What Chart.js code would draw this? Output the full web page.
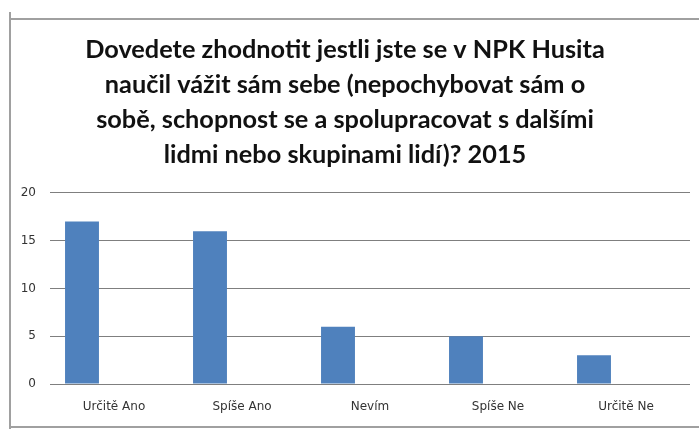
<!DOCTYPE html>
<html>
<head>
<meta charset="utf-8">
<script src="https://cdn.jsdelivr.net/npm/chart.js@4"></script>
<style>
html,body{margin:0;padding:0;background:#fff;}
#wrap{position:relative;width:699px;height:439px;}
canvas{position:absolute;left:0;top:0;}
.ln{position:absolute;background:#a0a0a0;pointer-events:none;}
</style>
</head>
<body>
<div id="wrap">
<canvas id="c" width="699" height="439"></canvas>
<div class="ln" style="left:9px;top:12px;width:2px;height:417px;"></div>
<div class="ln" style="left:10px;top:18px;width:689px;height:2px;"></div>
<div class="ln" style="left:10px;top:426px;width:689px;height:2px;"></div>
</div>
<script>
const titleLines = [
  "Dovedete zhodnotit jestli jste se v NPK Husita",
  "naučil vážit sám sebe (nepochybovat sám o",
  "sobě, schopnost se a spolupracovat s dalšími",
  "lidmi nebo skupinami lidí)? 2015"
];
const categories = ["Určitě Ano", "Spíše Ano", "Nevím", "Spíše Ne", "Určitě Ne"];
const answers2015 = [17, 16, 6, 5, 3];
const emptySeries = [null, null, null, null, null];
const yTicks = [0, 5, 10, 15, 20];

new Chart(document.getElementById('c'), {
  type: 'bar',
  data: {
    labels: categories,
    datasets: [
      { label: '2015', data: answers2015, backgroundColor: '#4F81BD', borderWidth: 0,
        categoryPercentage: 1.0, barPercentage: 0.53 },
      { label: '', data: emptySeries, backgroundColor: '#C0504D', borderWidth: 0,
        categoryPercentage: 1.0, barPercentage: 0.53 }
    ]
  },
  options: {
    responsive: false,
    animation: false,
    devicePixelRatio: 1,
    layout: { padding: { left: 0, right: 9, top: 0, bottom: 0 } },
    plugins: {
      legend: { display: false },
      tooltip: { enabled: false },
      title: {
        display: true,
        text: titleLines,
        color: '#111',
        font: { family: 'Lato', weight: 'bold', size: 25.3, lineHeight: 1.383 },
        padding: { top: 32, bottom: 21 }
      }
    },
    scales: {
      x: {
        grid: { display: false, drawTicks: false },
        border: { display: false },
        ticks: { color: '#333', font: { family: 'DejaVu Sans', size: 12 }, padding: 16, maxRotation: 0 },
        afterFit: (s) => { s.height = 55; }
      },
      y: {
        min: 0, max: 20,
        afterBuildTicks: (s) => { s.ticks = yTicks.map(v => ({ value: v })); },
        grid: { color: '#7f7f7f', lineWidth: 1, drawTicks: false },
        border: { display: false },
        ticks: { color: '#333', font: { family: 'DejaVu Sans', size: 12 }, padding: 14 },
        afterFit: (s) => { s.width = 50; }
      }
    }
  }
});
</script>
</body>
</html>
